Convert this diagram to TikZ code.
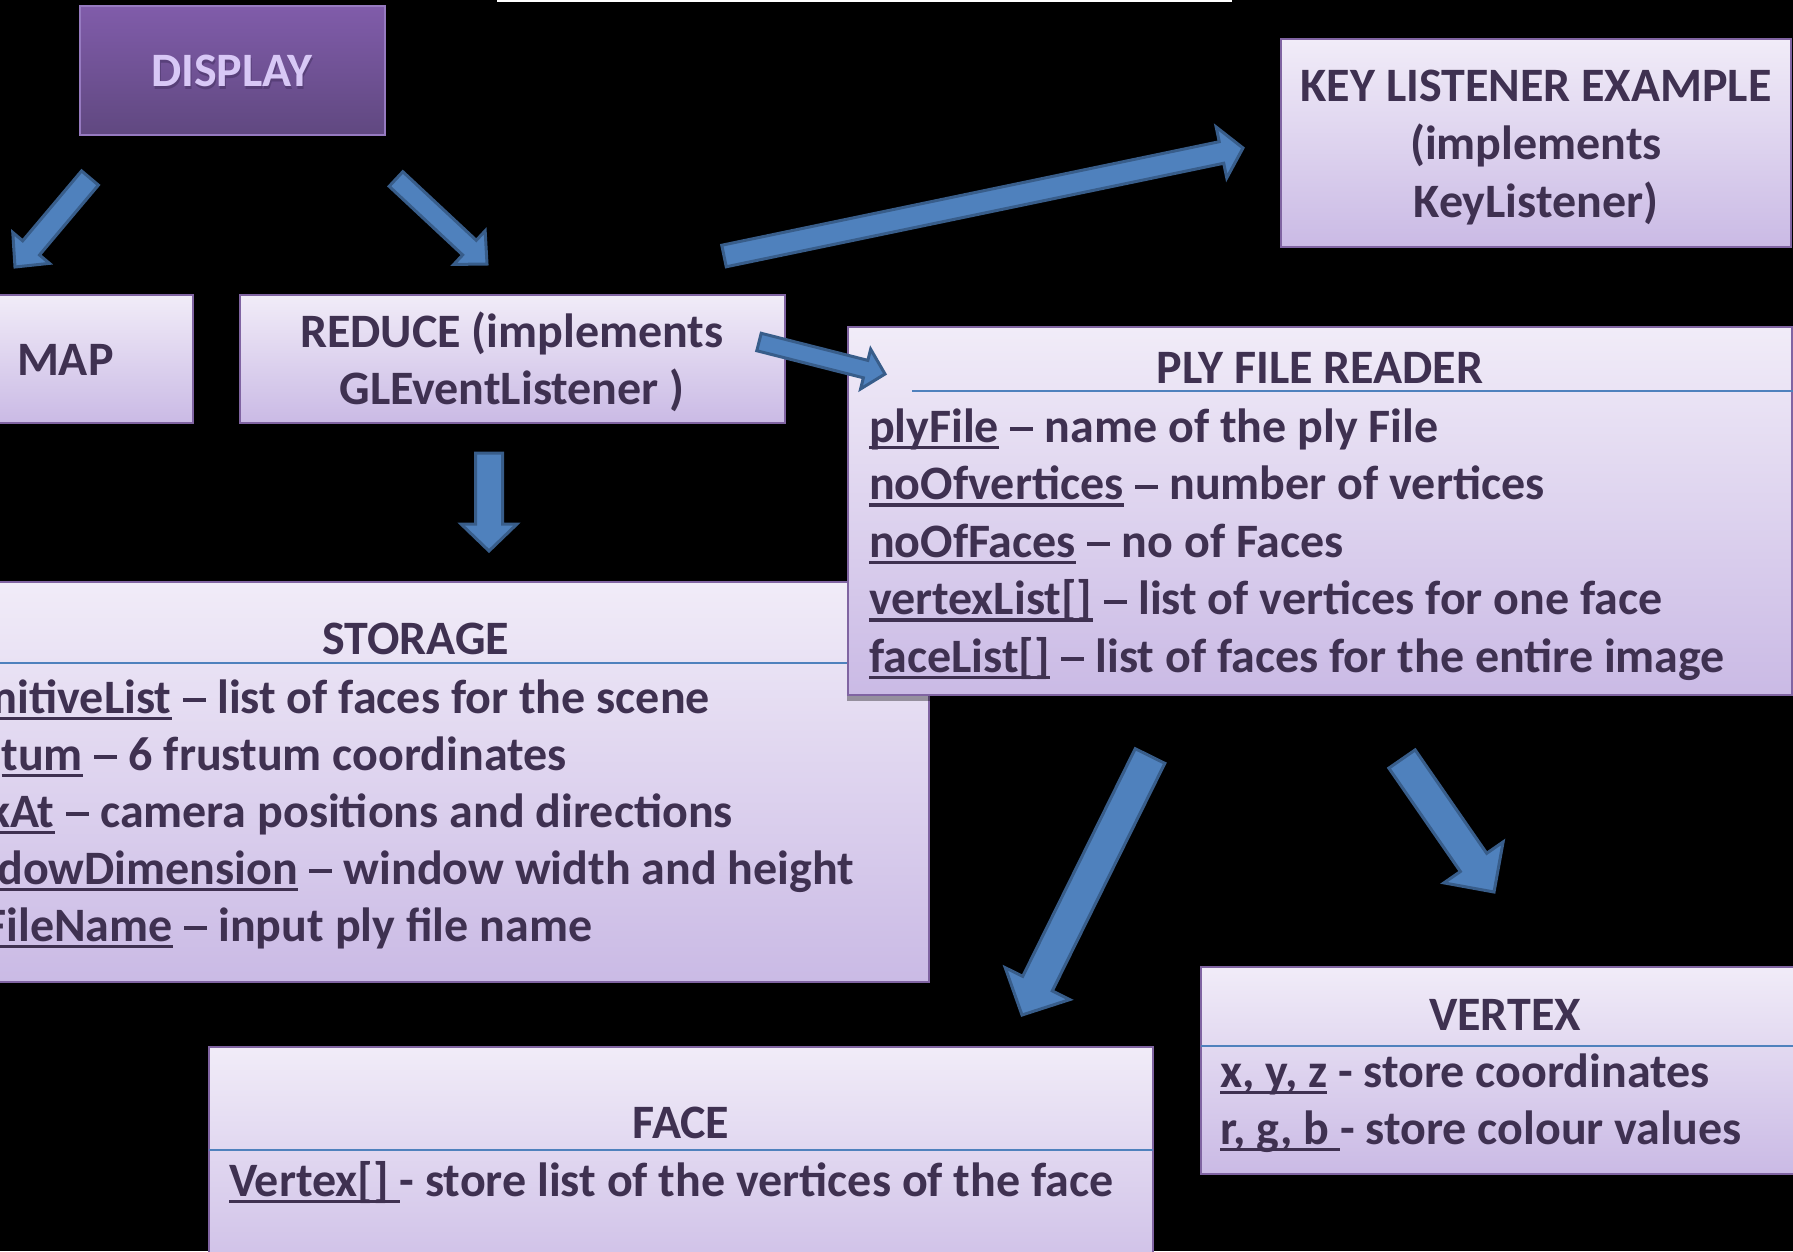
\documentclass[tikz,border=0pt]{standalone}
\usepackage{fontspec}
\setmainfont{Carlito}
\usetikzlibrary{calc,fit,shadows}

\definecolor{txt}{RGB}{63,49,81}
\definecolor{boxtop}{RGB}{241,236,248}
\definecolor{boxbot}{RGB}{202,186,229}
\definecolor{boxline}{RGB}{128,100,162}
\definecolor{sepline}{RGB}{79,129,189}
\definecolor{arrfill}{RGB}{79,129,189}
\definecolor{arrline}{RGB}{56,93,138}
\definecolor{disptop}{RGB}{128,92,170}
\definecolor{dispbot}{RGB}{96,72,128}
\definecolor{dispedge}{RGB}{150,122,192}
\definecolor{disptext}{RGB}{216,200,246}
\definecolor{dispshade}{RGB}{70,50,100}

% underlined field name, rule crossing the descenders
\newlength\ulwidth
\newcommand\ulword[1]{\settowidth\ulwidth{#1}\rlap{\rule[-7pt]{\ulwidth}{3.5pt}}#1}
% long en dash between a field and its description
\newcommand\fdash{\makebox[0.5em]{\rule[0.22em]{0.48em}{0.09em}}}

% block arrow: tail, tip, shaft half width, head half width, head length
\newcommand\blockarrow[5]{%
  \coordinate (#1-base) at ($(#2)!#5!(#1)$);
  \filldraw[fatarrow]
    ($(#1)!#3!90:(#2)$) -- ($(#1-base)!#3!90:(#2)$) -- ($(#1-base)!#4!90:(#2)$)
    -- (#2)
    -- ($(#1-base)!#4!-90:(#2)$) -- ($(#1-base)!#3!-90:(#2)$) -- ($(#1)!#3!-90:(#2)$)
    -- cycle;
}

\begin{document}
\begin{tikzpicture}[
  x=1pt, y=-1pt,
  every node/.style={inner sep=0pt, outer sep=0pt},
  font={\fontsize{48pt}{58pt}\selectfont\bfseries},
  text=txt,
  classbox/.style={draw=boxline, line width=2.5pt, top color=boxtop, bottom color=boxbot, inner sep=0pt},
  sep/.style={draw=sepline, line width=2.5pt},
  fatarrow/.style={fill=arrfill, draw=arrline, line width=3pt, line join=miter},
]
\useasboundingbox (0,0) rectangle (1793,1251);
\clip (0,0) rectangle (1793,1251);
\fill[black] (0,0) rectangle (1793,1251);
\fill[white] (497,0) rectangle (1232,2);

% DISPLAY
\node[fit={(80,6) (385,135)}, draw=dispedge, line width=2pt, top color=disptop, bottom color=dispbot] (display) {};
\node[anchor=base, text=dispshade, opacity=.55] (displayglow) at (233,89) {DISPLAY};
\node[anchor=base, text=disptext] (displaylabel) at (232,86) {DISPLAY};

% MAP
\node[classbox, fit={(-60,295) (193,423)}] (map) {};
\node[anchor=base west] (maplabel) at (17,375) {MAP};

% REDUCE
\node[classbox, fit={(240,295) (785,423)}] (reduce) {};
\node[anchor=base] (reduce1) at (512,347) {REDUCE (implements};
\node[anchor=base] (reduce2) at (512,404) {GLEventListener )};

% KEY LISTENER EXAMPLE
\node[classbox, fit={(1281,39) (1791,247)}] (keylist) {};
\node[anchor=base] (key1) at (1536,101) {KEY LISTENER EXAMPLE};
\node[anchor=base] (key2) at (1536,159) {(implements};
\node[anchor=base] (key3) at (1536,217) {KeyListener)};

% STORAGE
\node[classbox, fit={(-100,582) (929,982)}] (storage) {};
\draw[sep] (-100,663) -- (929,663);
\node[anchor=base] (storagehead) at (416,654) {STORAGE};
\node[anchor=base west] (st1) at (171.5,713) {\llap{\ulword{mitiveList}} \fdash{} list of faces for the scene};
\node[anchor=base west] (st2) at (83,770) {\llap{\ulword{tum}} \fdash{} 6 frustum coordinates};
\node[anchor=base west] (st3) at (54.5,827) {\llap{\ulword{kAt}} \fdash{} camera positions and directions};
\node[anchor=base west] (st4) at (298,884) {\llap{\ulword{dowDimension}} \fdash{} window width and height};
\node[anchor=base west] (st5) at (172.7,941) {\llap{\ulword{FileName}} \fdash{} input ply file name};

% PLY FILE READER
\node[classbox, fit={(848,327) (1792,695)},
      drop shadow={shadow xshift=-1pt, shadow yshift=-6pt, opacity=.35, fill=black}] (ply) {};
\draw[sep] (912,391) -- (1793,391);
\node[anchor=base] (plyhead) at (1320,383) {PLY FILE READER};
\node[anchor=base west] (ply1) at (869,442) {\ulword{plyFile} \fdash{} name of the ply File};
\node[anchor=base west] (ply2) at (869,499.5) {\ulword{noOfvertices} \fdash{} number of vertices};
\node[anchor=base west] (ply3) at (869,557) {\ulword{noOfFaces} \fdash{} no of Faces};
\node[anchor=base west] (ply4) at (869,614.5) {\ulword{vertexList[]} \fdash{} list of vertices for one face};
\node[anchor=base west] (ply5) at (869,672) {\ulword{faceList[]} \fdash{} list of faces for the entire image};

% FACE
\node[classbox, fit={(209,1047) (1153,1300)}] (face) {};
\draw[sep] (209,1150) -- (1153,1150);
\node[anchor=base] (facehead) at (681,1138) {FACE};
\node[anchor=base west] (face1) at (229,1196) {\ulword{Vertex[] }- store list of the vertices of the face};

% VERTEX
\node[classbox, fit={(1201,967) (1820,1174)}] (vertex) {};
\draw[sep] (1201,1046) -- (1820,1046);
\node[anchor=base] (vertexhead) at (1505,1030) {VERTEX};
\node[anchor=base west] (vertex1) at (1220,1087) {\ulword{x, y, z} - store coordinates};
\node[anchor=base west] (vertex2) at (1220,1144) {\ulword{r, g, b }- store colour values};

% arrows
\coordinate (dm) at (90,178);    \coordinate (dmtip) at (15,267);
\coordinate (dr) at (396,179);   \coordinate (drtip) at (487,264);
\coordinate (rk) at (724,256);   \coordinate (rktip) at (1243,148);
\coordinate (rp) at (759,342);   \coordinate (rptip) at (885,374);
\coordinate (rs) at (489,453);   \coordinate (rstip) at (489,551);
\coordinate (pf) at (1150,756);  \coordinate (pftip) at (1022,1015);
\coordinate (pv) at (1402,759);  \coordinate (pvtip) at (1494,892);

\blockarrow{dm}{dmtip}{11pt}{24pt}{25pt}
\blockarrow{dr}{drtip}{10pt}{23pt}{24pt}
\blockarrow{rk}{rktip}{11pt}{26pt}{22pt}
\blockarrow{rp}{rptip}{9pt}{20.5pt}{20pt}
\blockarrow{rs}{rstip}{13.5pt}{28pt}{27pt}
\blockarrow{pf}{pftip}{16.5pt}{36pt}{35pt}
\blockarrow{pv}{pvtip}{16pt}{36pt}{36pt}
\end{tikzpicture}
\end{document}
